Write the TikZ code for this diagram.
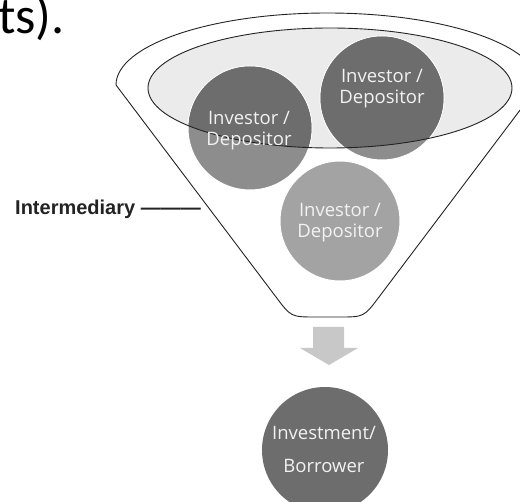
\documentclass[tikz,border=0pt]{standalone}
\usepackage{fontspec}
\setmainfont{Open Sans}
\newfontfamily\calib{Carlito}
\newfontfamily\arialb{Liberation Sans}
\usetikzlibrary{shapes.geometric}
\definecolor{linec}{HTML}{232323}
\definecolor{darkc}{HTML}{6D6D6D}
\definecolor{lowc}{HTML}{8D8D8D}
\definecolor{paleC}{HTML}{A3A3A3}
\definecolor{ellc}{HTML}{EBEBEB}
\definecolor{arrowc}{HTML}{C8C8C8}
\definecolor{txtc}{HTML}{F2F2F2}
\begin{document}
\begin{tikzpicture}[x=1pt,y=-1pt,
  outline/.style={draw=linec, line width=0.9pt},
  bubble/.style={circle, inner sep=0pt, draw=white, line width=1pt},
  lbl/.style={text=txtc, font=\fontsize{18.5}{21}\selectfont, align=center, inner sep=0pt},
]
\useasboundingbox[fill=white] (0,0) rectangle (520,502);

% heading fragment
\node[anchor=base west, inner sep=0pt, font=\calib\fontsize{52}{54}\selectfont] (frag) at (-2,34) {ts).};

% funnel outline
\coordinate (fl) at (116,85);
\coordinate (fr) at (539,85);
\draw[outline, fill=white] (fl) .. controls (116,45.2) and (210.7,13) .. (327.5,13)
  .. controls (444.3,13) and (539,45.2) .. (fr)
  -- (379,297) .. controls (364,317) .. (339,317)
  -- (316,317) .. controls (291,317) .. (276,297) -- cycle;

% inner ellipse
\node[ellipse, fill=ellc, minimum width=364pt, minimum height=120pt, inner sep=0pt] (inner) at (330,88) {};

% circles (outside colour)
\node[bubble, fill=lowc, minimum size=124pt] (c1) at (250,128) {};
\node[bubble, fill=lowc, minimum size=124pt] (c2) at (382,98) {};
\node[bubble, fill=paleC, minimum size=120pt] (c3) at (340,221) {};

% darker parts inside the inner ellipse
\begin{scope}
  \clip (330,88) ellipse [x radius=182pt, y radius=60pt];
  \fill[darkc] (250,128) circle [radius=61.5pt];
  \fill[darkc] (382,98) circle [radius=61.5pt];
\end{scope}

\draw[outline] (330,88) ellipse [x radius=182pt, y radius=60pt];

% labels
\node[lbl] (t1) at (249,131) {Investor /\\Depositor};
\node[lbl] (t2) at (382,89) {Investor /\\Depositor};
\node[lbl] (t3) at (340,223) {Investor /\\Depositor};

% intermediary label
\node[anchor=west, inner sep=0pt, text=linec, font=\arialb\bfseries\fontsize{20}{23}\selectfont] (interm) at (15,209) {Intermediary ———};

% block arrow
\fill[arrowc] (313,327) -- (344,327) -- (344,348) -- (358,348) -- (329,365)
  -- (300,348) -- (313,348) -- cycle;

% bottom circle
\node[circle, inner sep=0pt, fill=darkc, minimum size=126pt] (inv) at (325,450) {};
\node[lbl, font=\fontsize{18.5}{33}\selectfont] (t4) at (324,449) {Investment/\\Borrower};
\end{tikzpicture}
\end{document}
